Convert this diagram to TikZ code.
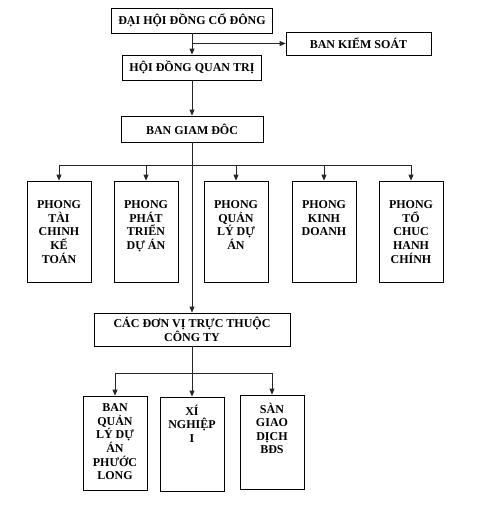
\documentclass[tikz,border=0pt]{standalone}
\usepackage{fontspec}
\setmainfont{Liberation Serif}
\usetikzlibrary{arrows.meta,positioning}

\begin{document}
\begin{tikzpicture}[x=1pt,y=-1pt,
    box/.style={draw,line width=0.8pt,inner sep=0pt,align=center,
      font=\bfseries\fontsize{12}{13.6}\selectfont},
    txt/.style={inner sep=0pt,align=center,font=\bfseries\fontsize{12}{13.6}\selectfont},
    link/.style={line width=0.8pt,draw=black!85},
    arr/.style={link,-{Triangle[length=6pt,width=5pt]}}]
    \useasboundingbox (0,0) rectangle (478,507);
    \node[box,minimum width=161pt,minimum height=25pt] (dh) at (192,20.5) {ĐẠI HỘI ĐỒNG CỔ ĐÔNG};
    \node[box,minimum width=145pt,minimum height=23pt] (bks) at (358.5,43.5) {BAN KIỂM SOÁT};
    \node[box,minimum width=139pt,minimum height=25pt] (hd) at (192,67.5) {HỘI ĐỒNG QUAN TRỊ};
    \node[box,minimum width=142pt,minimum height=26pt] (bgd) at (192,129) {BAN GIAM ĐÔC};
    \node[box,minimum width=196pt,minimum height=33pt] (cac) at (192,329.5) {CÁC ĐƠN VỊ TRỰC THUỘC\\CÔNG TY};
    \foreach \n/\x/\t in {1/59/{PHONG\\TÀI\\CHINH\\KẾ\\TOÁN},
      2/146/{PHONG\\PHÁT\\TRIỂN\\DỰ ÁN},
      3/236/{PHONG\\QUẢN\\LÝ DỰ\\ÁN},
      4/324/{PHONG\\KINH\\DOANH},
      5/411/{PHONG\\TỔ\\CHUC\\HANH\\CHÍNH}}
    {
    \node[box,minimum width=64pt,minimum height=101pt] (p\n) at (\x,231.5) {};
    \node[txt,anchor=north,below=20pt of p\n.north] (p\n t) {\t};
    }
    \foreach \n/\x/\y/\t in {1/115/443/{BAN\\QUẢN\\LÝ DỰ\\ÁN\\PHƯỚC\\LONG},
      2/192/444/{XÍ\\NGHIỆP\\I},
      3/272/442/{SÀN\\GIAO\\DỊCH\\BĐS}}
    {
    \node[box,minimum width=64pt,minimum height=94pt] (u\n) at (\x,\y) {};
    \node[txt,anchor=north,below=8pt of u\n.north] (u\n t) {\t};
    }
    \coordinate (bus) at (0,165);
    \coordinate (ubus) at (0,373);
    \draw[arr] (dh.south) -- (hd.north);
    \draw[arr] (dh.south |- bks.west) -- (bks.west);
    \draw[arr] (hd.south) -- (bgd.north);
    \draw[arr] (bgd.south) -- (cac.north);
    \draw[link] (p1.north |- bus) -- (p5.north |- bus);
    \foreach \n in {1,...,5}
    {
    \draw[arr] (p\n.north |- bus) -- (p\n.north);
    }
    \draw[arr] (cac.south) -- (u2.north);
    \draw[link] (u1.north |- ubus) -- (u3.north |- ubus);
    \draw[arr] (u1.north |- ubus) -- (u1.north);
    \draw[arr] (u3.north |- ubus) -- (u3.north);
\end{tikzpicture}
\end{document}
